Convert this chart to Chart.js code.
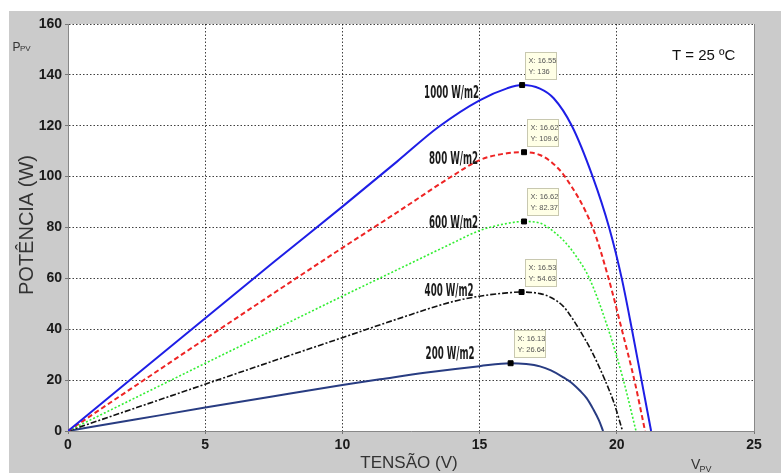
<!DOCTYPE html>
<html>
<head>
<meta charset="utf-8">
<script src="https://cdn.jsdelivr.net/npm/chart.js@4.4.0/dist/chart.umd.min.js"></script>
<style>
  html, body { margin: 0; padding: 0; background: #fff; }
</style>
</head>
<body>
<canvas id="myChart" width="784" height="473"></canvas>
<script>
// curvas P x V (tensão em V, potência em W)
const v1000 = [0, 2.5, 5, 7.5, 10, 12, 13.5, 15, 16, 16.55, 17.2, 17.7, 18.36, 19.12, 19.72, 20.18, 20.55, 20.9, 21.25];
const p1000 = [0, 22.2, 44.3, 66.4, 88.2, 106, 119.5, 130, 134.7, 136, 134.6, 130.8, 120, 100, 80, 60, 40, 20, 0];
const v800 = [0, 2.5, 5, 7.5, 10, 12, 14, 15, 16, 16.62, 17.2, 17.65, 18.11, 19.12, 19.7, 20.18, 20.64, 21.03];
const p800 = [0, 18.1, 36.2, 54.2, 72, 86, 100.2, 106.5, 109.2, 109.6, 108.5, 105.4, 100, 80, 60, 40, 20, 0];
const v600 = [0, 2.5, 5, 7.5, 10, 12, 14, 15, 16, 16.62, 17.2, 17.5, 18.05, 18.5, 19, 19.69, 20.24, 20.7];
const p600 = [0, 13.3, 26.6, 39.8, 53, 63.4, 73.8, 78.8, 81.6, 82.37, 81.7, 80, 75, 69, 60, 40, 20, 0];
const v400 = [0, 2.5, 5, 7.5, 10, 12, 14, 15, 16, 16.53, 17.2, 17.6, 18.05, 18.3, 18.6, 19.1, 19.57, 19.9, 20.21];
const p400 = [0, 9.2, 18.4, 27.6, 36.7, 44, 50.8, 53, 54.3, 54.63, 54, 52.5, 49, 45.5, 40.5, 31, 20, 11, 0];
const v200 = [0, 2.5, 5, 7.5, 10, 11.37, 13, 15, 16.13, 16.7, 17.2, 17.6, 18.05, 18.4, 18.66, 18.9, 19.14, 19.35, 19.5];
const p200 = [0, 4.6, 9.2, 13.7, 18.1, 20.3, 22.9, 25.5, 26.64, 26.3, 25.4, 23.8, 21.1, 18.5, 15.8, 12.9, 8.6, 4.2, 0];

const irradLabels = ['1000 W/m2', '800 W/m2', '600 W/m2', '400 W/m2', '200 W/m2'];
const peakV = [16.55, 16.62, 16.62, 16.53, 16.13];
const peakP = [136, 109.6, 82.37, 54.63, 26.64];
const xTicks = [0, 5, 10, 15, 20, 25];
const yTicks = [0, 20, 40, 60, 80, 100, 120, 140, 160];

const FONT = '"Liberation Sans", Arial, sans-serif';
const LABEL_FONT = 'bold 18px "DejaVu Sans Condensed", "DejaVu Sans", sans-serif';
// deslocamento (px) do rótulo em relação ao marcador de máximo
const labelDx = [-43, -46, -46, -48, -36];
const labelDy = [8, 7, 2, -1, -9];

function pts(xs, ys) {
  return xs.map((x, i) => ({ x: x, y: ys[i] }));
}

function curve(label, xs, ys, color, dash, width, order) {
  return {
    label: label,
    data: pts(xs, ys),
    borderColor: color,
    borderWidth: width,
    borderDash: dash,
    pointRadius: 0,
    fill: false,
    cubicInterpolationMode: 'monotone',
    order: order
  };
}

const extras = {
  id: 'extras',
  beforeDraw(chart) {
    const { ctx, chartArea: a } = chart;
    ctx.save();
    ctx.fillStyle = '#fff';
    ctx.fillRect(0, 0, chart.width, chart.height);
    ctx.fillStyle = '#cbcbcb';
    ctx.fillRect(9, 11, 772, 462);
    ctx.fillStyle = '#fff';
    ctx.fillRect(a.left, a.top, a.right - a.left, a.bottom - a.top);
    ctx.restore();
  },
  afterDraw(chart) {
    const { ctx, chartArea: a } = chart;
    ctx.save();

    // borda direita
    ctx.strokeStyle = '#888';
    ctx.lineWidth = 1;
    ctx.beginPath();
    ctx.moveTo(a.right + 0.5, a.top);
    ctx.lineTo(a.right + 0.5, a.bottom);
    ctx.stroke();

    // rótulos das curvas e caixas de dados
    const meta = chart.getDatasetMeta(0);
    ctx.font = LABEL_FONT;
    const sx = 49 / ctx.measureText('800 W/m2').width;
    meta.data.forEach((pt, i) => {
      ctx.save();
      ctx.font = LABEL_FONT;
      ctx.translate(pt.x + labelDx[i], pt.y + labelDy[i]);
      ctx.scale(sx, 1);
      ctx.fillStyle = '#1a1a1a';
      ctx.textAlign = 'right';
      ctx.textBaseline = 'middle';
      ctx.fillText(irradLabels[i], 0, 0);
      ctx.restore();

      const bx = Math.round(pt.x + 3) + 0.5;
      const by = Math.round(pt.y - 33) + 0.5;
      ctx.fillStyle = '#ffffe6';
      ctx.strokeStyle = '#c8c8b0';
      ctx.fillRect(bx, by, 31, 27);
      ctx.strokeRect(bx, by, 31, 27);
      ctx.fillStyle = '#555';
      ctx.font = '7.5px ' + FONT;
      ctx.textAlign = 'left';
      ctx.textBaseline = 'middle';
      ctx.fillText('X: ' + peakV[i], bx + 3, by + 8);
      ctx.fillText('Y: ' + peakP[i], bx + 3, by + 19);
    });

    // títulos dos eixos
    ctx.fillStyle = '#333';
    ctx.textAlign = 'center';
    ctx.textBaseline = 'middle';
    ctx.font = '17px ' + FONT;
    ctx.fillText('TENSÃO (V)', 409, 463);
    ctx.save();
    ctx.translate(27, 225);
    ctx.rotate(-Math.PI / 2);
    ctx.font = '20px ' + FONT;
    ctx.fillText('POTÊNCIA (W)', 0, 0);
    ctx.restore();

    ctx.textAlign = 'left';
    ctx.textBaseline = 'alphabetic';
    ctx.font = '12px ' + FONT;
    ctx.fillText('P', 12.5, 50.5);
    ctx.font = '8px ' + FONT;
    ctx.fillText('PV', 20, 51);
    ctx.font = '14px ' + FONT;
    ctx.fillText('V', 691, 469);
    ctx.font = '9px ' + FONT;
    ctx.fillText('PV', 699.5, 472);

    ctx.fillStyle = '#111';
    ctx.font = '15px ' + FONT;
    ctx.fillText('T = 25 ºC', 672, 60);
    ctx.restore();
  }
};

const ctx = document.getElementById('myChart').getContext('2d');
new Chart(ctx, {
  type: 'line',
  data: {
    datasets: [
      {
        label: 'máximos',
        data: pts(peakV, peakP),
        showLine: false,
        pointStyle: 'rect',
        pointRadius: 3.5,
        pointBackgroundColor: '#000',
        pointBorderColor: '#000',
        order: 0
      },
      curve(irradLabels[0], v1000, p1000, '#1e1ee6', [], 2, 1),
      curve(irradLabels[1], v800, p800, '#ee2424', [5, 3], 2, 2),
      curve(irradLabels[2], v600, p600, '#33ee33', [2, 2], 1.6, 3),
      curve(irradLabels[3], v400, p400, '#111', [6, 2, 2, 2], 1.6, 4),
      curve(irradLabels[4], v200, p200, '#283c82', [], 2, 5)
    ]
  },
  options: {
    responsive: false,
    animation: false,
    devicePixelRatio: 1,
    layout: { padding: { left: 0, top: 24, right: 30, bottom: 0 } },
    plugins: { legend: { display: false }, tooltip: { enabled: false } },
    scales: {
      x: {
        type: 'linear',
        min: 0,
        max: 25,
        afterBuildTicks: s => { s.ticks = xTicks.map(v => ({ value: v })); },
        afterFit: s => { s.height = 42; },
        grid: {
          color: c => (c.tick.value === 0 || c.tick.value === 25) ? 'rgba(0,0,0,0)' : 'rgba(0,0,0,0.75)',
          tickColor: '#777',
          tickLength: 3,
          tickBorderDash: []
        },
        border: { color: '#888', width: 1, dash: [1.5, 2] },
        ticks: { color: '#1a1a1a', padding: 3, font: { family: FONT, size: 14, weight: 'bold' }, maxRotation: 0 }
      },
      y: {
        min: 0,
        max: 160,
        afterBuildTicks: s => { s.ticks = yTicks.map(v => ({ value: v })); },
        afterFit: s => { s.width = 68; },
        grid: {
          color: c => c.tick.value === 0 ? 'rgba(0,0,0,0)' : 'rgba(0,0,0,0.75)',
          tickColor: '#777',
          tickLength: 3,
          tickBorderDash: []
        },
        border: { color: '#888', width: 1, dash: [1.5, 2] },
        ticks: { color: '#1a1a1a', padding: 3, font: { family: FONT, size: 14, weight: 'bold' } }
      }
    }
  },
  plugins: [extras]
});
</script>
</body>
</html>
